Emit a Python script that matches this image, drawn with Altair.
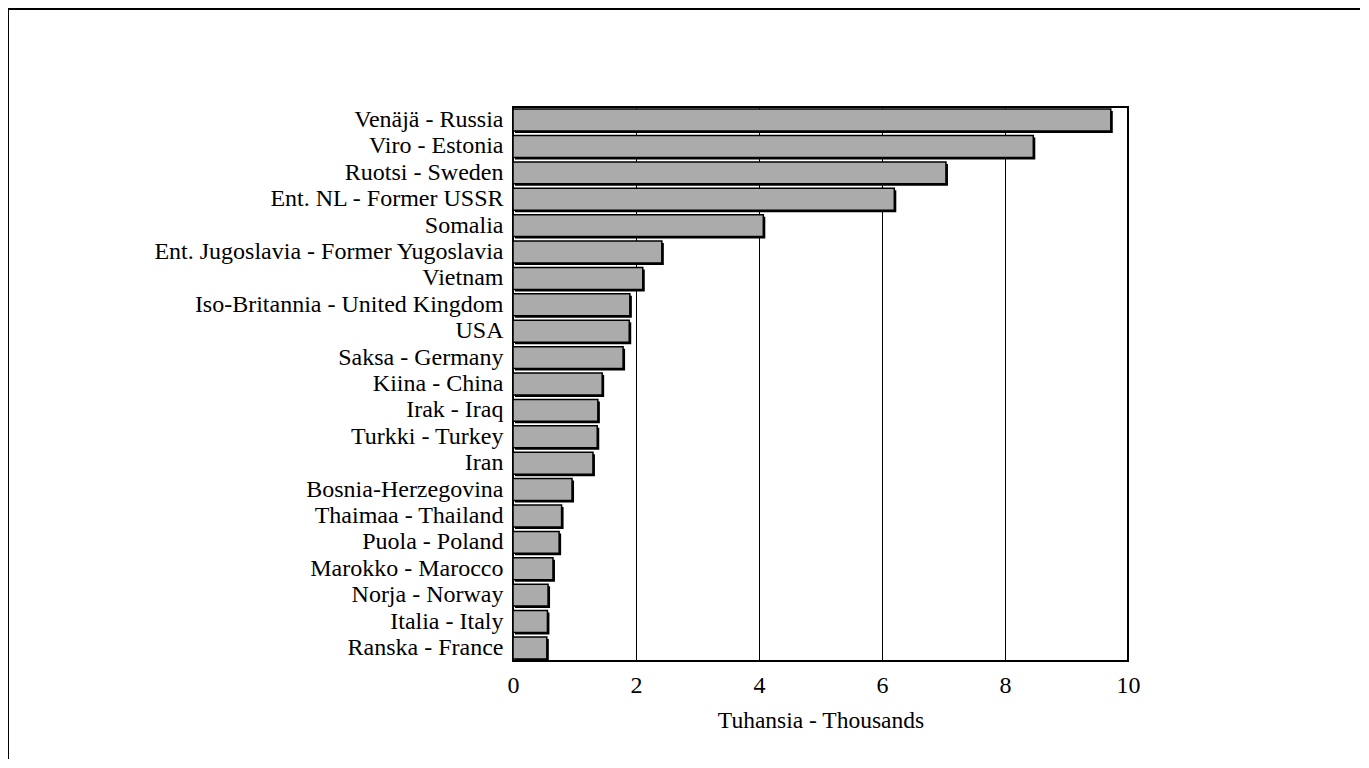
import altair as alt
import pandas as pd

countries = [
    "Venäjä - Russia", "Viro - Estonia", "Ruotsi - Sweden", "Ent. NL - Former USSR",
    "Somalia", "Ent. Jugoslavia - Former Yugoslavia", "Vietnam",
    "Iso-Britannia - United Kingdom", "USA", "Saksa - Germany", "Kiina - China",
    "Irak - Iraq", "Turkki - Turkey", "Iran", "Bosnia-Herzegovina",
    "Thaimaa - Thailand", "Puola - Poland", "Marokko - Marocco", "Norja - Norway",
    "Italia - Italy", "Ranska - France",
]
values = [9.72, 8.46, 7.04, 6.20, 4.07, 2.42, 2.11, 1.90, 1.89, 1.79, 1.45,
          1.38, 1.37, 1.30, 0.96, 0.79, 0.75, 0.65, 0.57, 0.56, 0.55]
x_ticks = [0, 2, 4, 6, 8, 10]

df = pd.DataFrame({"country": countries, "value": values})

FONT = "Liberation Serif"
FS = 24

x_enc = alt.X("value:Q", scale=alt.Scale(domain=[0, 10], nice=False),
              axis=alt.Axis(values=x_ticks, format="d", title="Tuhansia - Thousands",
                            grid=True, gridColor="black", gridWidth=1, gridOpacity=1,
                            ticks=False, domain=False, labelPadding=12, labelFlush=False,
                            titlePadding=11, labelFontSize=FS, titleFontSize=FS - 0.5,
                            titleFontWeight="normal", labelFont=FONT, titleFont=FONT,
                            labelColor="black", titleColor="black"))
y_enc = alt.Y("country:N", sort=countries,
              scale=alt.Scale(paddingInner=0.17, paddingOuter=0.08),
              axis=alt.Axis(title=None, ticks=False, domain=False, labelPadding=10,
                            labelFontSize=FS, labelFont=FONT, labelColor="black",
                            labelLimit=600))

base = alt.Chart(df)

shadow = base.mark_bar(color="black", xOffset=2, yOffset=2).encode(
    x=x_enc, y=y_enc)
bars = base.mark_bar(color="#ababab", stroke="black", strokeWidth=1.5).encode(
    x=alt.X("value:Q"), y=alt.Y("country:N", sort=countries))

border_left = alt.Chart(df).mark_rule(color="black", strokeWidth=2).encode(
    x=alt.value(-505), y=alt.value(-98), y2=alt.value(700))
border_top = alt.Chart(df).mark_rule(color="black", strokeWidth=2).encode(
    x=alt.value(-505), x2=alt.value(900), y=alt.value(-98))

chart = alt.layer(shadow, bars, border_left, border_top).properties(
    width=615, height=554,
    autosize=alt.AutoSizeParams(type="none"),
    padding={"left": 505, "top": 99, "right": 232, "bottom": 98},
).configure_view(stroke="black", strokeWidth=2)

chart.save("out.html", embed_options={"renderer": "svg", "actions": False})
